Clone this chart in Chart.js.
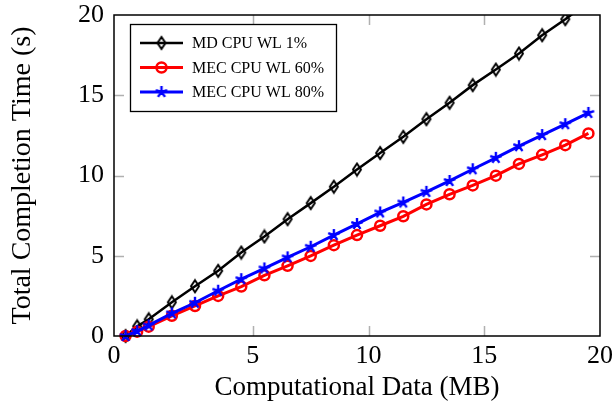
<!DOCTYPE html>
<html>
<head>
<meta charset="utf-8">
<script src="https://cdn.jsdelivr.net/npm/chart.js@4.4.1/dist/chart.umd.min.js"></script>
<style>
  html, body { margin: 0; padding: 0; background: #fff; }
  #wrap { width: 613px; height: 415px; }
</style>
</head>
<body>
<div id="wrap"><canvas id="chart" width="613" height="415"></canvas></div>
<script>
// positions of the samples on the x axis (axis starts at -1, first tick is labelled 0)
const dataPos = [-0.5, 0, 0.5, 1.5, 2.5, 3.5, 4.5, 5.5, 6.5, 7.5, 8.5, 9.5, 10.5, 11.5, 12.5, 13.5, 14.5, 15.5, 16.5, 17.5, 18.5, 19.5];

// total completion time (s)
const mdCpu1 = [0, 0.6, 1.04, 2.1, 3.1, 4.06, 5.2, 6.2, 7.28, 8.28, 9.3, 10.37, 11.4, 12.41, 13.51, 14.53, 15.63, 16.6, 17.6, 18.74, 19.74, 20.8];
const mecCpu60 = [0, 0.27, 0.58, 1.26, 1.87, 2.5, 3.08, 3.78, 4.37, 4.99, 5.66, 6.29, 6.87, 7.46, 8.2, 8.83, 9.38, 9.99, 10.72, 11.29, 11.89, 12.62];
const mecCpu80 = [0, 0.31, 0.66, 1.41, 2.07, 2.82, 3.54, 4.21, 4.9, 5.56, 6.29, 6.98, 7.7, 8.32, 8.98, 9.66, 10.39, 11.1, 11.83, 12.52, 13.2, 13.9];

const seriesNames = ['MD CPU WL 1%', 'MEC CPU WL 60%', 'MEC CPU WL 80%'];
const xTickValues = [-1, 5, 10, 15, 20];
const xTickLabels = ['0', '5', '10', '15', '20'];
const yTickValues = [0, 5, 10, 15, 20];
const innerTicks = [5, 10, 15];

const SERIF = "'Liberation Serif', 'Times New Roman', serif";

// pgfplots-like marks
function diamondMark() {
  const c = document.createElement('canvas');
  c.width = 14; c.height = 16;
  const g = c.getContext('2d');
  g.strokeStyle = '#000'; g.lineWidth = 2;
  g.beginPath();
  g.moveTo(7, 2); g.lineTo(11, 8); g.lineTo(7, 14); g.lineTo(3, 8);
  g.closePath(); g.stroke();
  return c;
}
function starMark() {
  const c = document.createElement('canvas');
  c.width = 16; c.height = 16;
  const g = c.getContext('2d');
  g.strokeStyle = '#0000ff'; g.lineWidth = 2.4; g.lineCap = 'butt';
  g.beginPath();
  for (let k = 0; k < 5; k++) {
    const a = -Math.PI / 2 + k * 2 * Math.PI / 5;
    g.moveTo(8, 8); g.lineTo(8 + 6 * Math.cos(a), 8 + 6 * Math.sin(a));
  }
  g.stroke();
  return c;
}
const diamond = diamondMark();
const star = starMark();

const toPoints = ys => dataPos.map((x, i) => ({ x, y: ys[i] }));

const frameAndTicks = {
  id: 'frameAndTicks',
  beforeDatasetsDraw(chart) {
    const { ctx, chartArea: a, scales } = chart;
    ctx.save();
    ctx.strokeStyle = '#b0b0b0';
    ctx.lineWidth = 1.5;
    ctx.beginPath();
    innerTicks.forEach(v => {
      const x = Math.round(scales.x.getPixelForValue(v)) + 0.5;
      ctx.moveTo(x, a.bottom); ctx.lineTo(x, a.bottom - 10);
      ctx.moveTo(x, a.top); ctx.lineTo(x, a.top + 10);
      const y = Math.round(scales.y.getPixelForValue(v)) + 0.5;
      ctx.moveTo(a.left, y); ctx.lineTo(a.left + 10, y);
      ctx.moveTo(a.right, y); ctx.lineTo(a.right - 10, y);
    });
    ctx.stroke();
    ctx.restore();
  },
  afterDatasetsDraw(chart) {
    const { ctx, chartArea: a } = chart;
    ctx.save();
    ctx.strokeStyle = '#000';
    ctx.lineWidth = 1.5;
    ctx.strokeRect(a.left, a.top, a.right - a.left, a.bottom - a.top);
    ctx.restore();
  }
};

// legend box in the upper left corner of the plot
const boxLegend = {
  id: 'boxLegend',
  afterDraw(chart) {
    const { ctx, chartArea: a } = chart;
    const left = a.left + 16, top = a.top + 9;
    ctx.save();
    ctx.fillStyle = '#fff';
    ctx.fillRect(left, top, 206, 87);
    ctx.strokeStyle = '#000';
    ctx.lineWidth = 1.3;
    ctx.strokeRect(left + 0.5, top + 0.5, 206, 87);
    chart.data.datasets.forEach((ds, i) => {
      const y = top + 19 + i * 24.5;
      ctx.strokeStyle = ds.borderColor;
      ctx.lineWidth = ds.borderWidth;
      ctx.beginPath();
      ctx.moveTo(left + 10, y); ctx.lineTo(left + 53, y);
      ctx.stroke();
      const mx = left + 31.5;
      if (ds.pointStyle === 'circle') {
        ctx.lineWidth = ds.pointBorderWidth;
        ctx.beginPath();
        ctx.arc(mx, y, ds.pointRadius, 0, Math.PI * 2);
        ctx.stroke();
      } else {
        ctx.drawImage(ds.pointStyle, mx - ds.pointStyle.width / 2, y - ds.pointStyle.height / 2);
      }
      ctx.fillStyle = '#000';
      ctx.font = '16px ' + SERIF;
      ctx.textBaseline = 'middle';
      ctx.fillText(ds.label, left + 62, y + 1);
    });
    ctx.restore();
  }
};

new Chart(document.getElementById('chart'), {
  type: 'line',
  data: {
    datasets: [
      {
        label: seriesNames[0], data: toPoints(mdCpu1),
        borderColor: '#000000', borderWidth: 2.5,
        pointStyle: diamond, pointRadius: 6, order: 2
      },
      {
        label: seriesNames[1], data: toPoints(mecCpu60),
        borderColor: '#ff0000', borderWidth: 3,
        pointStyle: 'circle', pointRadius: 5, pointBorderWidth: 2.5,
        pointBackgroundColor: 'rgba(0,0,0,0)', order: 1
      },
      {
        label: seriesNames[2], data: toPoints(mecCpu80),
        borderColor: '#0000ff', borderWidth: 3,
        pointStyle: star, pointRadius: 6, order: 0
      }
    ]
  },
  options: {
    responsive: false,
    animation: false,
    devicePixelRatio: 1,
    layout: { padding: { top: 15, right: 13, left: 0, bottom: 0 } },
    elements: { line: { tension: 0 } },
    datasets: { line: { clip: { left: 10, top: 0, right: 10, bottom: 10 } } },
    plugins: { legend: { display: false }, tooltip: { enabled: false } },
    scales: {
      x: {
        type: 'linear', min: -1, max: 20,
        grid: { display: false, drawTicks: false },
        border: { display: false },
        afterBuildTicks: s => { s.ticks = xTickValues.map(v => ({ value: v })); },
        afterFit: s => { s.height = 79; s.paddingLeft = 0; s.paddingRight = 0; },
        ticks: {
          color: '#000', padding: 5, maxRotation: 0,
          font: { family: SERIF, size: 26 },
          callback: (v, i) => xTickLabels[i]
        },
        title: {
          display: true, text: 'Computational Data (MB)', color: '#000',
          font: { family: SERIF, size: 27 }, padding: { top: 0, bottom: 11 }
        }
      },
      y: {
        min: 0, max: 20,
        grid: { display: false, drawTicks: false },
        border: { display: false },
        afterBuildTicks: s => { s.ticks = yTickValues.map(v => ({ value: v })); },
        afterFit: s => { s.width = 114; s.paddingTop = 0; s.paddingBottom = 0; },
        ticks: {
          color: '#000', padding: 10,
          font: { family: SERIF, size: 26 }
        },
        title: {
          display: true, text: 'Total Completion Time (s)', color: '#000',
          font: { family: SERIF, size: 28 }, padding: { top: 6, bottom: 0 }
        }
      }
    }
  },
  plugins: [frameAndTicks, boxLegend]
});
</script>
</body>
</html>
